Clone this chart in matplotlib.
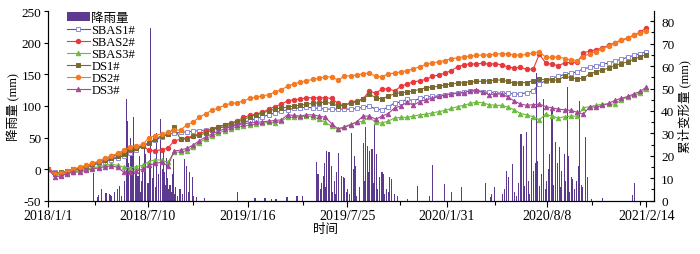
import numpy as np
import pandas as pd
import matplotlib
matplotlib.use("Agg")
import matplotlib.pyplot as plt
from matplotlib.patches import Patch
from matplotlib.lines import Line2D

plt.rcParams["font.family"] = ["Liberation Serif", "Noto Sans CJK SC"]
plt.rcParams["axes.unicode_minus"] = False
plt.rcParams["font.size"] = 9

START = pd.Timestamp("2018-01-01")

# InSAR acquisitions every 12 days (left axis, mm)
sbas1 = [0, -5, -6, -4, -2, 0, 3, 6, 9, 12, 15, 18, 21, 25, 31, 36, 41, 46, 51, 55,
         57, 58, 59, 60, 61, 62, 63, 65, 67, 69, 71, 74, 77, 80, 83, 86, 89, 92, 94, 96,
         97, 98, 97, 96, 95, 95, 95, 95, 95, 96, 98, 100, 95, 94, 98, 105, 106, 111, 108, 112,
         114, 115, 116, 118, 119, 121, 122, 124, 123, 122, 122, 121, 120, 120, 119, 119, 121, 124, 135, 140,
         144, 147, 150, 152, 154, 159, 161, 163, 166, 168, 171, 174, 177, 180, 183, 186]
sbas2 = [0, -6, -7, -4, -1, 2, 5, 8, 12, 16, 20, 23, 27, 31, 34, 36, 30, 29, 31, 33,
         45, 47, 50, 52, 56, 60, 64, 67, 70, 73, 76, 82, 85, 87, 90, 95, 99, 103, 108, 110,
         111, 113, 113, 113, 113, 112, 104, 100, 106, 108, 111, 124, 120, 127, 127, 124, 131, 135, 138, 140,
         142, 147, 149, 152, 156, 162, 165, 167, 166, 168, 166, 167, 165, 162, 160, 161, 158, 158, 182, 168,
         166, 164, 168, 169, 169, 184, 187, 189, 192, 196, 200, 204, 207, 212, 217, 224]
sbas3 = [0, -8, -9, -6, -4, -2, 0, 2, 4, 6, 8, 6, 3, 2, 4, 6, 12, 15, 14, 11,
         27, 27, 29, 35, 42, 48, 53, 57, 61, 64, 67, 68, 70, 71, 73, 74, 73, 76, 82, 82,
         83, 84, 83, 79, 74, 68, 63, 67, 71, 74, 76, 82, 74, 73, 76, 81, 82, 82, 84, 86,
         87, 89, 91, 93, 96, 99, 101, 104, 106, 105, 102, 101, 101, 98, 94, 88, 86, 83, 78, 87,
         84, 81, 83, 84, 84, 97, 99, 101, 103, 103, 103, 110, 114, 117, 120, 127]
ds1 = [0, -8, -5, -3, 0, 2, 5, 8, 11, 14, 17, 20, 24, 32, 34, 37, 42, 48, 53, 55,
       66, 47, 48, 52, 54, 57, 62, 67, 70, 72, 75, 78, 83, 86, 89, 92, 95, 97, 98, 100,
       101, 103, 104, 105, 106, 104, 100, 101, 104, 107, 111, 119, 113, 111, 116, 119, 121, 122, 124, 126,
       129, 130, 131, 133, 135, 136, 137, 138, 139, 139, 140, 141, 141, 139, 136, 137, 137, 140, 143, 141,
       141, 141, 147, 145, 143, 144, 151, 154, 157, 160, 164, 167, 170, 174, 178, 181]
ds2 = [0, -8, -6, -3, 0, 3, 6, 9, 13, 17, 21, 25, 30, 35, 37, 39, 50, 53, 56, 58,
       62, 62, 70, 75, 82, 88, 93, 97, 101, 104, 105, 108, 112, 114, 116, 118, 122, 126, 131, 135,
       138, 140, 142, 144, 146, 146, 141, 147, 148, 149, 151, 152, 147, 146, 151, 152, 154, 156, 159, 162,
       166, 168, 170, 172, 175, 176, 178, 179, 180, 181, 181, 182, 183, 182, 181, 180, 182, 184, 186, 177,
       177, 178, 175, 173, 172, 178, 183, 186, 190, 195, 200, 204, 208, 212, 216, 219]
ds3 = [0, -12, -11, -7, -5, -4, -2, 0, 2, 4, 5, 3, -5, -4, -3, 0, 6, 9, 11, 5,
       29, 30, 33, 38, 45, 51, 56, 60, 64, 67, 70, 72, 73, 74, 75, 76, 77, 78, 86, 85,
       84, 86, 86, 84, 82, 72, 64, 66, 70, 75, 84, 84, 79, 84, 88, 97, 100, 106, 101, 107,
       110, 112, 115, 117, 119, 120, 121, 124, 126, 122, 118, 119, 119, 114, 108, 103, 101, 102, 103, 99,
       97, 95, 94, 93, 90, 87, 99, 98, 101, 104, 109, 112, 115, 119, 123, 130]

# daily rainfall (right axis, mm), day offset from 2018-01-01
rain_day = [86, 93, 96, 102, 110, 116, 118, 121, 126, 131, 135, 139, 145, 149, 151, 153,
            156, 158, 160, 162, 166, 169, 171, 173, 175, 178, 180, 183, 186, 190, 193, 195,
            198, 201, 204, 207, 210, 213, 217, 219, 222, 224, 226, 228, 230, 232, 234, 236,
            238, 241, 243, 247, 251, 255, 260, 264, 267, 270, 274, 276, 283, 298, 361, 394,
            413, 426, 434, 455, 474, 485, 512, 514, 518, 521, 524, 526, 529, 531, 535, 539,
            542, 545, 548, 550, 554, 558, 562, 565, 568, 571, 574, 577, 581, 583, 585, 588,
            593, 600, 603, 605, 609, 611, 613, 617, 620, 622, 626, 628, 632, 636, 638, 641,
            644, 648, 651, 655, 660, 666, 684, 703, 727, 733, 756, 769, 788, 834, 843, 845,
            851, 866, 870, 874, 878, 884, 889, 893, 897, 901, 905, 908, 912, 915, 918, 921,
            924, 928, 931, 933, 937, 940, 943, 947, 950, 953, 956, 960, 963, 966, 970, 974,
            977, 979, 983, 986, 989, 991, 994, 997, 1000, 1003, 1006, 1010, 1013, 1016, 1019, 1023,
            1027, 1036, 1057, 1114, 1118]
rain_mm = [12.2, 1.5, 2.5, 5.2, 3.5, 3, 2.5, 2, 4, 5.2, 6.6, 2, 9, 45.3, 35.7, 17,
           28, 24, 22, 37.2, 12, 14, 11, 20, 4, 9, 15, 26, 21, 8, 18, 76.9,
           10, 17, 6, 30, 12, 36.4, 14, 23, 13, 7, 19, 10, 5, 7, 4, 12,
           18.6, 3, 6, 2, 5, 3, 18.6, 15.6, 4, 12.7, 10.5, 2, 1.6, 1, 4, 1,
           1, 0.8, 0.8, 1.6, 2, 2, 17.3, 11.8, 5, 8, 11, 17, 6, 22, 21.6, 15.5,
           4, 8.8, 3, 12.7, 21.2, 11, 10.5, 10, 4, 5.2, 3, 30, 14, 20, 15.6, 2,
           6, 25.7, 9, 32.8, 24.4, 13, 22, 23, 8, 33.7, 20.8, 5.2, 10.5, 12.7, 12, 3,
           5.2, 4, 10.5, 9.6, 3, 2, 0.7, 6.5, 2, 16, 7.4, 3.8, 6, 8, 1.6, 3,
           6, 3, 5, 13.2, 10.5, 16.3, 4, 2, 8, 29.7, 24.4, 6.5, 30.5, 9, 3, 37,
           13.2, 17, 57, 17.7, 6.5, 12, 45.3, 5, 8.6, 14, 20.8, 40.9, 7, 26, 17, 24,
           6, 13.2, 20.8, 9, 50.7, 20, 4, 10.5, 9.6, 5, 8.6, 15.5, 44.4, 7, 6, 28.4,
           10.5, 0.8, 1.2, 2.5, 8]

tick_labels = ["2018/1/1", "2018/7/10", "2019/1/16", "2019/7/25",
               "2020/1/31", "2020/8/8", "2021/2/14"]
minor_days = [89, 275, 486, 670, 851, 1037, 1128]

series = [
    ("SBAS1#", sbas1, "#5252b4", "s", "white", "#8c8cd6"),
    ("SBAS2#", sbas2, "#e8383d", "o", "#e8383d", "#e8383d"),
    ("SBAS3#", sbas3, "#6dbb3c", "^", "#6dbb3c", "#6dbb3c"),
    ("DS1#", ds1, "#7a6a2e", "s", "#7a6a2e", "#7a6a2e"),
    ("DS2#", ds2, "#f47920", "o", "#f47920", "#f47920"),
    ("DS3#", ds3, "#a6479a", "^", "#a6479a", "#a6479a"),
]
rain_color = "#5c3a8f"

dates = pd.date_range(START, periods=len(ds2), freq="12D")
rain_dates = START + pd.to_timedelta(rain_day, unit="D")

fig = plt.figure(figsize=(7.0, 2.55), dpi=100)
ax = fig.add_axes([0.069, 0.209, 0.8657, 0.743])
ax2 = ax.twinx()
ax.set_zorder(ax2.get_zorder() + 1)
ax.patch.set_visible(False)

ax2.bar(rain_dates, rain_mm, width=2.0, color=rain_color, linewidth=0,
        antialiased=False)

handles = [Patch(facecolor=rain_color, label="降雨量")]
for name, vals, col, mk, fc, ec in series:
    ax.plot(dates, vals, color=col, lw=0.8, marker=mk, ms=3.2,
            mfc=fc, mec=ec, mew=0.7)
    handles.append(Line2D([], [], color=col, lw=0.8, marker=mk, ms=3.2,
                          mfc=fc, mec=ec, mew=0.7, label=name))

ax.set_xlim(START, START + pd.Timedelta(days=1155))
ax.set_ylim(-50, 250)
ax2.set_ylim(0, 84.45)

major = [START + pd.Timedelta(days=190 * k) for k in range(7)]
ax.set_xticks(major)
ax.set_xticklabels(tick_labels)
ax.set_xticks([START + pd.Timedelta(days=d) for d in minor_days], minor=True)
ax.set_yticks(np.arange(-50, 251, 50))
ax2.set_yticks(np.arange(0, 81, 10))
ax2.set_yticks(np.arange(0, 85, 5), minor=True)

ax.tick_params(axis="x", direction="out", length=4, width=0.8, pad=2, labelsize=10)
ax.tick_params(axis="x", which="minor", direction="out", length=3, width=0.8)
ax.tick_params(axis="y", direction="out", length=3, width=0.8, pad=2, labelsize=9.5)
ax2.tick_params(axis="y", direction="in", length=3, width=0.8, pad=5, labelsize=9.5)
ax2.tick_params(axis="y", which="minor", direction="in", length=2, width=0.8)

for a in (ax, ax2):
    a.spines["top"].set_visible(False)
    for s in ("left", "right", "bottom"):
        a.spines[s].set_linewidth(0.8)

ax.set_ylabel("降雨量 (mm)")
ax.yaxis.set_label_coords(-0.047, 0.5)
ax2.set_ylabel("累计变形量 (mm)", rotation=90)
ax2.yaxis.set_label_coords(1.039, 0.5)
ax.set_xlabel("时间")
ax.xaxis.set_label_coords(0.457, -0.12)

ax.legend(handles=handles, loc="upper left", bbox_to_anchor=(0.031, 0.995),
          frameon=False, borderaxespad=0, borderpad=0, labelspacing=0.0,
          handlelength=1.8, handletextpad=0.15, fontsize=9)

fig.savefig("out.png", dpi=100)
